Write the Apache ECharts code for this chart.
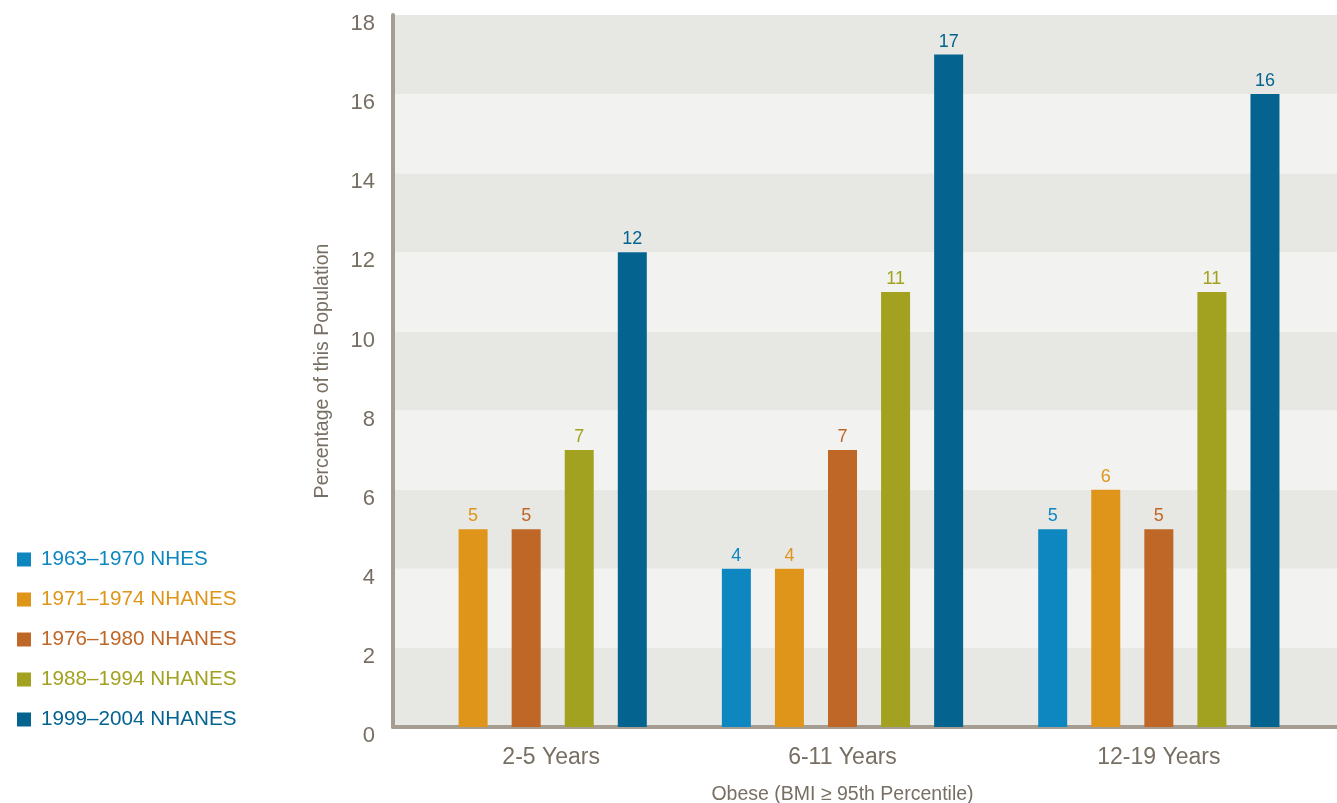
<!DOCTYPE html>
<html>
<head>
<meta charset="utf-8">
<script src="https://cdn.jsdelivr.net/npm/echarts@6/dist/echarts.min.js"></script>
<style>
html,body{margin:0;padding:0;background:#fff;}
#c{width:1337px;height:803px;}
</style>
</head>
<body>
<div id="c"></div>
<script>
const categories = ['2-5 Years', '6-11 Years', '12-19 Years'];
const seriesNames = ['1963\u20131970 NHES', '1971\u20131974 NHANES', '1976\u20131980 NHANES', '1988\u20131994 NHANES', '1999\u20132004 NHANES'];
const s1963 = ['-', 4, 5];
const s1971 = [5, 4, 6];
const s1976 = [5, 7, 5];
const s1988 = [7, 11, 11];
const s1999 = [12, 17, 16];
const yTicks = [0, 2, 4, 6, 8, 10, 12, 14, 16, 18];
const yTitle = 'Percentage of this Population';
const xTitle = 'Obese (BMI \u2265 95th Percentile)';

const colors = ['#0e87c0', '#df951a', '#bf6727', '#a2a220', '#04648f'];
const values = [s1963, s1971, s1976, s1988, s1999];
const FONT = '"Liberation Sans", Arial, Helvetica, sans-serif';
const TXT = '#776f63';

const chart = echarts.init(document.getElementById('c'));
const series = seriesNames.map((n, i) => ({
  name: n,
  type: 'bar',
  xAxisIndex: 1,
  yAxisIndex: 1,
  data: values[i],
  barWidth: 29,
  barGap: '83%',
  itemStyle: { color: colors[i] },
  label: {
    show: true, position: 'top', distance: 4,
    color: colors[i], fontSize: 18, fontFamily: FONT
  }
}));

chart.setOption({
  animation: false,
  textStyle: { fontFamily: FONT },
  legend: {
    orient: 'vertical',
    left: 12,
    top: 544,
    itemWidth: 14,
    itemHeight: 14,
    itemGap: 19,
    icon: 'rect',
    data: seriesNames.map((n, i) => ({
      name: n,
      textStyle: { color: colors[i], fontSize: 20.7, fontFamily: FONT, padding: [0, 0, 0, 5] }
    }))
  },
  grid: [
    { left: 393, right: 0, top: 15, bottom: 76, outerBoundsMode: 'none', containLabel: false },
    { left: 368, right: 20, top: 15, bottom: 76, outerBoundsMode: 'none', containLabel: false }
  ],
  xAxis: [
    {
      gridIndex: 0, type: 'value', min: 0, max: 1,
      axisLine: { show: true, onZero: false, lineStyle: { color: '#a59d92', width: 4 } },
      axisTick: { show: false }, axisLabel: { show: false }, splitLine: { show: false }
    },
    {
      gridIndex: 1, type: 'category', data: categories,
      axisLine: { show: false }, axisTick: { show: false },
      axisLabel: {
        color: TXT, fontSize: 23, margin: 19, fontFamily: FONT,
        formatter: (v, i) => i === 0 ? '{s|' + v + '}' : v,
        rich: { s: { color: TXT, fontSize: 23, fontFamily: FONT, padding: [0, 0, 0, 50] } }
      },
      name: xTitle, nameLocation: 'middle', nameGap: 58,
      nameTextStyle: { color: TXT, fontSize: 19.5, fontFamily: FONT }
    }
  ],
  yAxis: [
    {
      gridIndex: 0, type: 'value', min: 0, max: 18, interval: 2,
      axisLine: { show: true, lineStyle: { color: '#a59d92', width: 4 } },
      axisTick: { show: false },
      splitLine: { show: false },
      splitArea: { show: true, areaStyle: { color: ['#e7e7e3', '#f2f2f0'] } },
      axisLabel: {
        color: TXT, fontSize: 22, margin: 18, fontFamily: FONT,
        verticalAlign: 'top', lineHeight: 18,
        formatter: v => yTicks.includes(v) ? String(v) : ''
      },
      name: yTitle, nameLocation: 'middle', nameGap: 60,
      nameTextStyle: { color: TXT, fontSize: 19.5, fontFamily: FONT }
    },
    {
      gridIndex: 1, type: 'value', min: 0, max: 18, interval: 2,
      show: false, splitLine: { show: false }
    }
  ],
  series: series
});
</script>
</body>
</html>
